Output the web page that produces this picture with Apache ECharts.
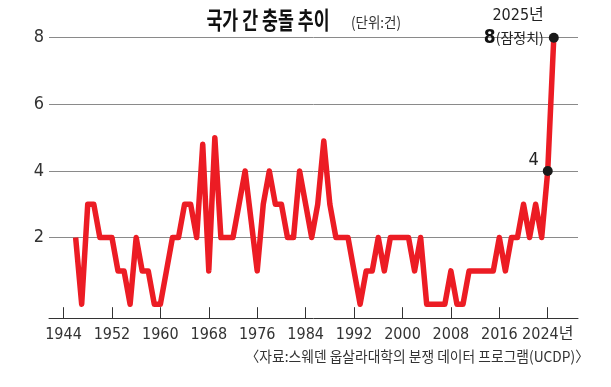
<!DOCTYPE html>
<html><head><meta charset="utf-8">
<script src="https://cdn.jsdelivr.net/npm/echarts@6/dist/echarts.min.js"></script>
<style>html,body{margin:0;padding:0;background:#fff}#c{width:611px;height:387px}</style>
</head><body><div id="c"></div>
<script>
// ---- data ----
const years = [1946,1947,1948,1949,1950,1951,1952,1953,1954,1955,1956,1957,1958,1959,1960,1961,1962,1963,1964,1965,
  1966,1967,1968,1969,1970,1971,1972,1973,1974,1975,1976,1977,1978,1979,1980,1981,1982,1983,1984,1985,
  1986,1987,1988,1989,1990,1991,1992,1993,1994,1995,1996,1997,1998,1999,2000,2001,2002,2003,2004,2005,
  2006,2007,2008,2009,2010,2011,2012,2013,2014,2015,2016,2017,2018,2019,2020,2021,2022,2023,2024,2025];
const conflicts = [2,0,3,3,2,2,2,1,1,0,2,1,1,0,0,1,2,2,3,3,
  2,4.8,1,5,2,2,2,3,4,2.5,1,3,4,3,3,2,2,4,3,2,
  3,4.9,3,2,2,2,1,0,1,1,2,1,2,2,2,2,1,2,0,0,
  0,0,1,0,0,1,1,1,1,1,2,1,2,2,3,2,3,2,4,8];
const tickYears = [1944,1952,1960,1968,1976,1984,1992,2000,2008,2016,2024];
const yTicks = [0,2,4,6,8];
const titleText = '국가 간 충돌 추이';
const unitText = '(단위:건)';
const sourceText = '〈자료:스웨덴 웁살라대학의 분쟁 데이터 프로그램(UCDP)〉';
const yearSuffix = '년';
const provisional = '잠정치';

const NARROW = '"Liberation Sans Narrow","Arial Narrow","DejaVu Sans Condensed","Noto Sans CJK KR",sans-serif';
const CJK = '"Noto Sans CJK KR",sans-serif';

const n = years.length;
const seriesData = years.map((y, i) => {
  const v = conflicts[i];
  const item = { value: [y, v] };
  if (i === n - 2) {
    item.symbol = 'circle'; item.symbolSize = 10;
    item.itemStyle = { color: '#1a1a1a' };
    item.label = { show: true, position: 'left', distance: 4, offset: [0, -11],
      formatter: String(v), fontFamily: NARROW, fontSize: 18, color: '#222' };
  }
  if (i === n - 1) {
    item.symbol = 'circle'; item.symbolSize = 10;
    item.itemStyle = { color: '#1a1a1a' };
    item.label = { show: true, position: 'left', distance: 5, offset: [0, -11],
      formatter: '{y|' + y + yearSuffix + '}\n{b|' + v + '}{p|(' + provisional + ')}',
      rich: {
        y: { fontFamily: NARROW, fontSize: 16, color: '#222', lineHeight: 22 },
        b: { fontFamily: NARROW, fontSize: 19, fontWeight: 'bold', color: '#111', lineHeight: 22 },
        p: { fontFamily: CJK, fontSize: 14, color: '#222', lineHeight: 22 }
      } };
  }
  return item;
});

const chart = echarts.init(document.getElementById('c'), null, { renderer: 'canvas' });
chart.setOption({
  animation: false,
  backgroundColor: '#fff',
  grid: { left: 49, right: 33, top: 37.7, bottom: 82.8 },
  xAxis: {
    type: 'value', min: 1941.6, max: 2029, offset: 14,
    axisLine: { show: true, onZero: false, lineStyle: { color: '#333', width: 1 } },
    axisTick: { show: true, inside: true, length: 11, customValues: tickYears, lineStyle: { color: '#333', width: 1 } },
    axisLabel: { customValues: tickYears, formatter: v => (v === tickYears[tickYears.length - 1] ? v + yearSuffix : String(v)),
      fontFamily: NARROW, fontSize: 16, color: '#333', margin: 9 },
    splitLine: { show: false }
  },
  yAxis: {
    type: 'value', min: yTicks[0], max: yTicks[yTicks.length - 1], interval: 2,
    axisLine: { show: false }, axisTick: { show: false },
    axisLabel: { formatter: v => (v === 0 ? '' : String(v)), fontFamily: NARROW, fontSize: 18, color: '#333', margin: 5 },
    splitLine: { show: true, showMinLine: false, lineStyle: { color: '#8a8a8a', width: 1 } }
  },
  series: [{
    type: 'line', data: seriesData, symbol: 'none', showSymbol: true,
    lineStyle: { color: '#ec1c24', width: 5.5, join: 'round' },
    itemStyle: { color: '#ec1c24' },
    emphasis: { disabled: true }, z: 3
  }],
  graphic: [
    { type: 'text', x: 268, y: 20, scaleX: 0.72, z: 10,
      style: { text: titleText, fontFamily: CJK, fontSize: 24, fontWeight: 'bold', fill: '#111',
        textAlign: 'center', textVerticalAlign: 'middle', align: 'center', verticalAlign: 'middle' } },
    { type: 'text', x: 376, y: 22, scaleX: 0.9, z: 10,
      style: { text: unitText, fontFamily: CJK, fontSize: 15, fill: '#333',
        textAlign: 'center', textVerticalAlign: 'middle', align: 'center', verticalAlign: 'middle' } },
    { type: 'text', x: 589, y: 356, scaleX: 0.95, z: 10,
      style: { text: sourceText, fontFamily: CJK, fontSize: 14.5, fill: '#333',
        textAlign: 'right', textVerticalAlign: 'middle', align: 'right', verticalAlign: 'middle' } }
  ]
});
</script></body></html>
